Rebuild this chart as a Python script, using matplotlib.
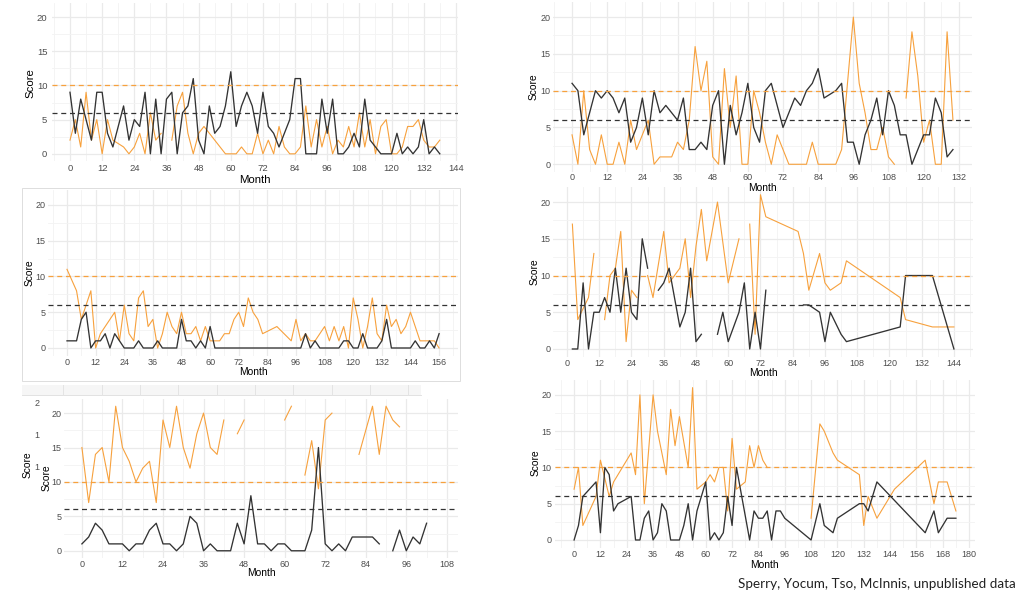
import numpy as np
import matplotlib
matplotlib.use("Agg")
import matplotlib.pyplot as plt
from matplotlib.patches import Rectangle
from matplotlib.lines import Line2D

plt.rcParams['font.family'] = ['Liberation Sans', 'DejaVu Sans']

NA = np.nan

# ---------------- data ----------------
# Panel 1 (top left)
p1_black_month = list(range(0, 140, 2))
p1_black_score = [9, 3, 8, 5, 2, 9, 9, 3, 1, 4, 7, 2, 5, 4, 9, 0, 8, 0, 8, 9,
                  0, 6, 7, 11, 2, 0, 7, 3, 4, 7, 12, 4, 7, 9, 7, 3, 9, 4, 3, 1,
                  3, 5, 11, 11, 0, 0, 0, 8, 3, 8, 0, 0, 1, 3, 1, 8, 2, 1, 0, 0,
                  0, 3, 0, 1, 0, 1, 5, 0, 1, 0]
p1_orange_month = [0, 2, 4, 6, 8, 10, 12, 14, 16] + list(range(20, 52, 2)) + list(range(58, 140, 2))
p1_orange_score = [2, 5, 1, 9, 2, 5, 0, 5, 2,
                   1, 0, 1, 3, 0, 6, 2, 3, NA, 2, 7, 9, 3, 0, 3, 4,
                   0, 0, 0, 1, 0, 0, 3, 0, 2, 0, 4, 1, 0, 0, 1, 7, 1, 5, 1, 4,
                   0, 2, 1, 4, 1, 6, 1, 5, 0, 4, 5, 0, 0, 1, 4, 4, 5, 2, 1, 1, 2]

# Panel 2 (top right)
p2_black_month = list(range(0, 88, 2)) + list(range(90, 132, 2))
p2_black_score = [11, 10, 4, 7, 10, 9, 10, 9, 7, 9, 3, 5, 9, 4, 10, 7, 8, 7, 6, 9,
                  2, 2, 3, 2, 8, 10, 0, 8, 4, 7, 11, 5, 3, 10, 11, 8, 5, 7, 9, 8,
                  10, 11, 13, 9,
                  10, 11, 3, 3, 0, 4, 6, 9, 4, 10, 8, 4, 4, 0, 2, 4, 4, 9, 7, 1, 2]
p2_orange_month = list(range(0, 94, 2)) + list(range(96, 132, 2))
p2_orange_score = [4, 0, 10, 2, 0, 4, 0, 0, 3, 0, 6, 2, 4, 6, 0, 1, 1, 1, 3, 2,
                   6, 16, 10, 14, 1, 0, 13, 5, 12, 0, 0, 10, 7, 3, 0, 4, 2, 0, 0, 0,
                   0, 3, 0, 0, 0, 0, 2,
                   20, 11, 7, 2, 2, 5, 1, 0, NA, 9, 18, 12, 3, 6, 0, 0, 18, 6]

# Panel 3 (middle left)
p3_black_month = list(range(0, 158, 2))
p3_black_score = [1, 1, 1, 4, 5, 0, 1, 1, 2, 0, 2, 1, 0, 0, 0, 1, 0, 0, 0, 1,
                  0, 0, 0, 0, 4, 1, 1, 0, 1, 0, 3, 0, 0, 0, 0, 0, 0, 0, 0, 0,
                  0, 0, 0, 0, 0, 0, 0, 0, 0, 0, 2, 0, 1, 0, 0, 0, 0, 0, 1, 1,
                  0, 0, 2, 0, 0, 0, 1, 4, 0, 0, 0, 0, 0, 1, 0, 0, 1, 0, 2]
p3_orange_month = [0, 4, 6, 10, 12, 14] + list(range(20, 84, 2)) + [88, 94, 96, 98, 100, 102, 104] + list(range(108, 158, 2))
p3_orange_score = [11, 8, 4, 8, 0, 2,
                   5, 1, 6, 2, 1, 7, 8, 3, 4, 0, 2, 5, 3, 2, 5, 2, 2, 3, 1, 3,
                   1, 1, 1, 2, 2, 4, 5, 3, 7, 5, 4, 2,
                   3, 1, 4, 1, 2, 1, 1,
                   3, 1, 3, 1, 3, 0, 7, 4, 0, 3, 7, 2, 1, 6, 3, 4, 2, 3, 5, 3,
                   1, 1, 1, 1, 0]

# Panel 4 (middle right)
p4_black_month = [2, 4, 6, 8, 10, 12, 14, 16, 18, 20, 22, 24, 26, 28, 30, 32, 34, 36, 38,
                  42, 44, 46, 48, 50, 52, 56, 58, 60, 64, 66, 68, 70, 72, 74, 76,
                  88, 90, 94, 96, 98, 102, 104, 124, 126, 136, 144]
p4_black_score = [0, 0, 9, 0, 5, 5, 7, 5, 11, 5, 11, 5, 4, 15, 11, NA, 8, 9, 11,
                  3, 5, 11, 1, 2, NA, 2, 5, 1, 5, 9, 0, 5, 0, 8, NA,
                  6, 6, 5, 1, 5, 2, 1, 3, 10, 10, 0]
p4_orange_month = [2, 4, 8, 10, 12, 14, 16, 18, 20, 22, 24, 26, 28, 30, 32, 36, 38,
                   42, 44, 46, 48, 50, 52, 56, 60, 64, 66, 68, 70, 72, 74,
                   86, 88, 90, 94, 96, 98, 102, 104, 124, 126, 136, 144]
p4_orange_score = [17, 4, 7, 13, NA, 4, 10, 11, 16, 1, 8, 7, NA, 10, 7, 16, 9,
                   11, 15, 7, 14, 19, 12, 20, 9, 15, NA, 17, 2, 21, 18,
                   16, 13, 8, 13, 9, 8, 9, 12, 7, 4, 3, 3]

# Panel 5 (bottom left)
p5_black_month = list(range(0, 104, 2))
p5_black_score = [1, 2, 4, 3, 1, 1, 1, 0, 1, 1, 3, 4, 1, 1, 0, 1, 5, 4, 0, 1,
                  0, 0, 0, 4, 1, 8, 1, 1, 0, 1, 1, 0, 0, 0, 3, 15, 1, 0, 1, 0,
                  2, 2, 2, 2, 1, NA, 0, 3, 0, 2, 1, 4]
p5_orange_month = list(range(0, 50, 2)) + [50, 60, 62, 64, 66, 68, 70, 72, 74, 76, 82, 86, 88, 90, 92, 94]
p5_orange_score = [15, 7, 14, 15, 10, 21, 15, 13, 10, 12, 13, 7, 19, 15, 21, 15, 12, 17, 20, 15,
                   14, 19, NA, 17, 19,
                   NA, 19, 21, NA, 11, 16, 9, 19, 20, NA, 14, 21, 14, 21, 19, 18]

# Panel 6 (bottom right)
p6_black_month = [0, 2, 4, 10, 12, 14, 16, 18, 20, 26, 28, 30, 32, 34, 36, 38, 40, 42, 44, 46,
                  48, 50, 52, 54, 56, 60, 62, 64, 66, 68, 70, 72, 74, 80, 82, 84, 86, 88,
                  90, 92, 94, 96, 108, 112, 114, 118, 120, 130, 132, 134, 138, 160, 164,
                  166, 170, 174]
p6_black_score = [0, 2, 6, 8, 1, 10, 9, 4, 5, 6, 0, 0, 3, 4, 0, 1, 5, 4, 0, 0,
                  0, 2, 5, 0, 4, 8, 0, 1, 0, 1, 6, 2, 10, 0, 4, 3, 3, 4,
                  0, 4, 4, 3, 0, 5, 2, 1, 3, 5, 5, 4, 8, 1, 4,
                  1, 3, 3]
p6_orange_month = [0, 2, 4, 10, 12, 16, 18, 26, 28, 30, 32, 36, 38, 42, 44, 46, 48, 52, 54, 56,
                   60, 62, 64, 66, 68, 70, 72, 74, 78, 80, 82, 84, 86, 88, 90,
                   108, 112, 114, 118, 120, 130, 132, 134, 138, 146, 160, 164, 166, 170, 174]
p6_orange_score = [7, 10, 2, 6, 11, 6, 8, 12, 9, 20, 5, 20, 15, 9, 18, 13, 17, 10, 21, 7,
                   8, 9, 8, 10, 10, 4, 14, 7, 8, 13, 10, 13, 11, 10, NA,
                   3, 16, 15, 12, 11, 9, 2, 6, 3, 7, 11, 5, 8, 8, 4]

# thresholds
orange_cutoff = 10
black_cutoff = 6

y_ticks = [0, 5, 10, 15, 20]
caption = "Sperry, Yocum, Tso, McInnis, unpublished data"

# ---------------- styling / layout ----------------
W, H = 1032, 596
ORANGE = '#F7A13D'
DARK = '#333333'
TICK_C = '#4D4D4D'

fig = plt.figure(figsize=(W / 100, H / 100), dpi=100)
fig.patch.set_facecolor('white')


def fx(x):
    return x / W


def fy(y):
    return 1 - y / H


# extra frame / strip artifacts of the composed slide
fig.add_artist(Rectangle((fx(22), fy(381)), fx(460) - fx(22), fy(188) - fy(381),
                         transform=fig.transFigure, fill=False, ec='#DDDDDD', lw=0.7))
fig.add_artist(Rectangle((fx(22), fy(395)), fx(421) - fx(22), fy(385) - fy(395),
                         transform=fig.transFigure, fc='#F6F6F6', ec='none'))
fig.add_artist(Line2D([fx(22), fx(421)], [fy(395), fy(395)], transform=fig.transFigure,
                      color='#E2E2E2', lw=0.7))
for xv in [63, 102, 140, 178, 217, 255, 293, 332, 370, 408]:
    fig.add_artist(Line2D([fx(xv), fx(xv)], [fy(385), fy(395)], transform=fig.transFigure,
                          color='#E4E4E4', lw=0.7))

panels = [
    dict(box=(51.5, 3, 458.3, 161), xlim=(-6.9, 144.9), xmax=144,
         black=(p1_black_month, p1_black_score), orange=(p1_orange_month, p1_orange_score),
         score=(30, 83), month=(255, 180), tfs=6.8, afs=8.2, pad=2.2),
    dict(box=(553, 2, 972, 172), xlim=(-6.5, 136.5), xmax=132,
         black=(p2_black_month, p2_black_score), orange=(p2_orange_month, p2_orange_score),
         score=(534, 87), month=(762, 188), tfs=6.5, afs=7.4, pad=0.8),
    dict(box=(48.4, 190.3, 457.7, 355.5), xlim=(-7.8, 163.8), xmax=156,
         black=(p3_black_month, p3_black_score), orange=(p3_orange_month, p3_orange_score),
         score=(30, 273), month=(253, 372), tfs=6.5, afs=7.4, pad=1.5),
    dict(box=(553.3, 187, 973, 356.7), xlim=(-5.1, 151.1), xmax=144,
         black=(p4_black_month, p4_black_score), orange=(p4_orange_month, p4_orange_score),
         score=(535, 272), month=(763, 373), tfs=6.5, afs=7.4, pad=1.3),
    dict(box=(64, 399, 458, 558), xlim=(-5.3, 111.3), xmax=108,
         black=(p5_black_month, p5_black_score), orange=(p5_orange_month, p5_orange_score),
         score=(47, 478), month=(261, 573), tfs=6.5, afs=7.4, pad=1.2),
    dict(box=(555, 380, 975, 547.6), xlim=(-8.7, 182.7), xmax=180,
         black=(p6_black_month, p6_black_score), orange=(p6_orange_month, p6_orange_score),
         score=(536, 463), month=(764, 565), tfs=6.5, afs=7.4, pad=1.9),
]

for p in panels:
    l, t, r, b = p['box']
    ax = fig.add_axes([fx(l), fy(b), fx(r) - fx(l), fy(t) - fy(b)])
    ax.set_facecolor('white')
    ax.set_xlim(*p['xlim'])
    ax.set_ylim(-1.05, 22.05)
    majors = np.arange(0, p['xmax'] + 1, 12)
    ax.set_xticks(majors)
    minors = np.arange(-6, p['xlim'][1], 12)
    minors = minors[minors >= p['xlim'][0]]
    ax.set_xticks(minors, minor=True)
    ax.set_yticks(y_ticks)
    ax.set_yticks([2.5, 7.5, 12.5, 17.5], minor=True)
    ax.grid(which='major', color='#EAEAEA', lw=0.9)
    ax.grid(which='minor', color='#F3F3F3', lw=0.6)
    ax.set_axisbelow(True)
    for s in ax.spines.values():
        s.set_visible(False)
    ax.tick_params(which='both', length=0, labelsize=p['tfs'], labelcolor=TICK_C,
                   pad=p['pad'])
    ax.tick_params(axis='y', pad=p['pad'] + 0.8)

    bm, bs = p['black']
    om, osc = p['orange']
    ax.plot(om, osc, color=ORANGE, lw=0.8, zorder=3)
    ax.plot(bm, bs, color=DARK, lw=0.95, zorder=4)
    ax.axhline(orange_cutoff, color=ORANGE, lw=0.9, ls=(0, (4, 3)), zorder=5)
    ax.axhline(black_cutoff, color=DARK, lw=0.9, ls=(0, (4, 3)), zorder=5)

    sx, sy = p['score']
    fig.text(fx(sx), fy(sy), 'Score', rotation=90, ha='center', va='center',
             fontsize=p['afs'], color='black')
    mx, my = p['month']
    fig.text(fx(mx), fy(my), 'Month', ha='center', va='center',
             fontsize=p['afs'], color='black')

# stray overlapping labels in the bottom-left picture
fig.text(fx(28), fy(465), 'Score', rotation=90, ha='center', va='center', fontsize=7.4, color='black')
for yy, s in [(403, '2'), (435, '1'), (467, '1')]:
    fig.text(fx(37), fy(yy), s, ha='center', va='center', fontsize=6.5, color=TICK_C)

fig.text(fx(1016), fy(584), caption, ha='right', va='center', fontsize=9.7,
         family=['Lato', 'DejaVu Sans'], color='#222222')

fig.savefig('out.png', dpi=100, facecolor='white')
